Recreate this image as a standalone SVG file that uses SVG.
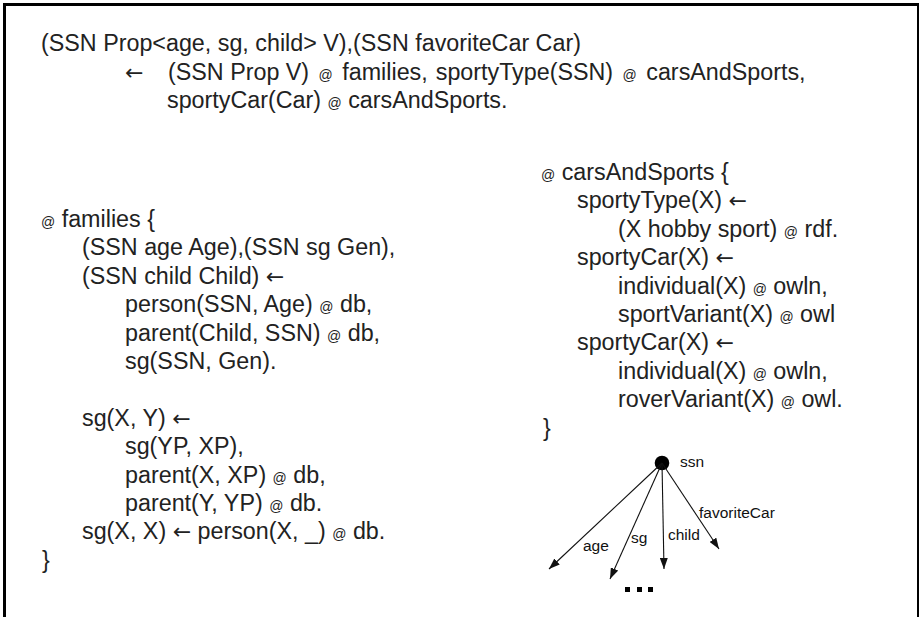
<svg xmlns="http://www.w3.org/2000/svg" width="919" height="617" viewBox="0 0 919 617">
<style>
.t{font-family:"Liberation Sans",Arial,sans-serif;font-size:23.3px;fill:#222}
.at{font-size:14px}
.arr{font-family:"DejaVu Sans",sans-serif;font-size:22px}
.lbl{font-family:"Liberation Sans",Arial,sans-serif;font-size:15.5px;fill:#111}
.edge{stroke:#111;stroke-width:1.1;fill:none;marker-end:url(#ah)}
</style>
<defs>
<marker id="ah" markerUnits="userSpaceOnUse" markerWidth="12" markerHeight="8" refX="11" refY="4" orient="auto">
<path d="M0,0 L11,4 L0,8 Z" fill="#111"/>
</marker>
</defs>
<rect width="919" height="617" fill="#fff"/>
<g id="frame" stroke="#000" fill="none">
<line x1="3" y1="4.5" x2="919" y2="4.5" stroke-width="3"/>
<line x1="4.5" y1="3" x2="4.5" y2="617" stroke-width="3"/>
<line x1="918" y1="3" x2="918" y2="617" stroke-width="2"/>
</g>
<g id="rule-main" class="t">
<text x="41" y="51">(SSN Prop&lt;age, sg, child&gt; V),(SSN favoriteCar Car)</text>
<text x="125" y="80" class="t arr">←</text>
<text x="168" y="80">(SSN Prop V) <tspan class="at" dx="3">@</tspan><tspan dx="3"> families,</tspan><tspan dx="8">sportyType(SSN) </tspan><tspan class="at" dx="3">@</tspan><tspan dx="3"> carsAndSports,</tspan></text>
<text x="167" y="108">sportyCar(Car) <tspan class="at">@</tspan> carsAndSports.</text>
</g>
<g id="module-families" class="t">
<text x="41" y="227"><tspan class="at">@</tspan> families {</text>
<text x="82" y="255.4">(SSN age Age),(SSN sg Gen),</text>
<text x="82" y="283.8">(SSN child Child) <tspan class="arr">←</tspan></text>
<text x="125" y="312.2">person(SSN, Age) <tspan class="at">@</tspan> db,</text>
<text x="125" y="340.6">parent(Child, SSN) <tspan class="at">@</tspan> db,</text>
<text x="125" y="369">sg(SSN, Gen).</text>
<text x="82" y="425.8">sg(X, Y) <tspan class="arr">←</tspan></text>
<text x="125" y="454.2">sg(YP, XP),</text>
<text x="125" y="482.6">parent(X, XP) <tspan class="at">@</tspan> db,</text>
<text x="125" y="511">parent(Y, YP) <tspan class="at">@</tspan> db.</text>
<text x="82" y="539.4">sg(X, X) <tspan class="arr">←</tspan> person(X, _) <tspan class="at">@</tspan> db.</text>
<text x="42" y="567.8">}</text>
</g>
<g id="module-carsAndSports" class="t">
<text x="541" y="180"><tspan class="at">@</tspan> carsAndSports {</text>
<text x="577" y="208.4">sportyType(X) <tspan class="arr">←</tspan></text>
<text x="618" y="236.8">(X hobby sport) <tspan class="at">@</tspan> rdf.</text>
<text x="577" y="265.2">sportyCar(X) <tspan class="arr">←</tspan></text>
<text x="618" y="293.6">individual(X) <tspan class="at">@</tspan> owln,</text>
<text x="618" y="322">sportVariant(X) <tspan class="at">@</tspan> owl</text>
<text x="577" y="350.4">sportyCar(X) <tspan class="arr">←</tspan></text>
<text x="618" y="378.8">individual(X) <tspan class="at">@</tspan> owln,</text>
<text x="618" y="407.2">roverVariant(X) <tspan class="at">@</tspan> owl.</text>
<text x="543" y="435.6">}</text>
</g>
<g id="node-ssn">
<circle cx="662" cy="463" r="7.3" fill="#000"/>
<text class="lbl" x="680" y="467">ssn</text>
</g>
<g id="connectors">
<line class="edge" x1="662" y1="463" x2="549" y2="569"/>
<line class="edge" x1="662" y1="463" x2="610" y2="579"/>
<line class="edge" x1="662" y1="463" x2="664" y2="569"/>
<line class="edge" x1="662" y1="463" x2="719" y2="549"/>
<text class="lbl" x="583" y="551">age</text>
<text class="lbl" x="631" y="543">sg</text>
<text class="lbl" x="668" y="540">child</text>
<text class="lbl" x="699" y="518">favoriteCar</text>
</g>
<g id="ellipsis" fill="#000">
<rect x="625" y="587" width="5" height="5"/>
<rect x="637" y="587" width="5" height="5"/>
<rect x="648" y="587" width="5" height="5"/>
</g>
</svg>
